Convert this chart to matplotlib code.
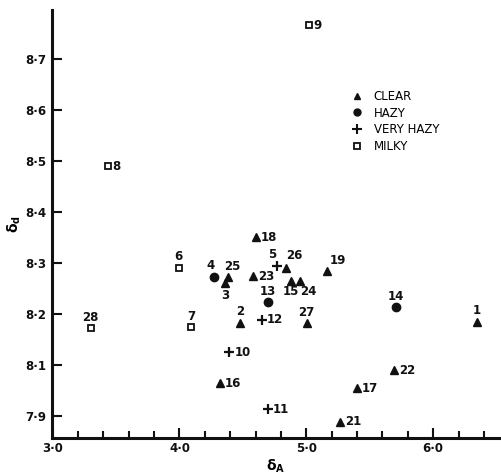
import numpy as np
import matplotlib.pyplot as plt
from matplotlib.lines import Line2D

# sample numbers and positions (delta_A, delta_d)
clear_ids = [1, 2, 3, 15, 16, 17, 18, 19, 21, 22, 23, 24, 25, 26, 27]
clear_x = [6.344, 4.479, 4.359, 4.883, 4.320, 5.396, 4.600, 5.160, 5.265, 5.690, 4.577, 4.950, 4.380, 4.841, 5.003]
clear_y = [8.185, 8.183, 8.260, 8.265, 8.064, 8.054, 8.350, 8.284, 7.989, 8.090, 8.274, 8.265, 8.273, 8.289, 8.183]

hazy_ids = [4, 13, 14]
hazy_x = [4.275, 4.694, 5.710]
hazy_y = [8.273, 8.224, 8.213]

vhazy_ids = [5, 10, 11, 12]
vhazy_x = [4.767, 4.393, 4.694, 4.647]
vhazy_y = [8.294, 8.125, 8.013, 8.189]

milky_ids = [6, 7, 8, 9, 28]
milky_x = [3.995, 4.090, 3.433, 5.020, 3.300]
milky_y = [8.290, 8.174, 8.489, 8.765, 8.172]

xticks = [3.0, 4.0, 5.0, 6.0]
xtick_labels = ['3·0', '4·0', '5·0', '6·0']
yticks = [8.0, 8.1, 8.2, 8.3, 8.4, 8.5, 8.6, 8.7]
ytick_labels = ['7·9', '8·1', '8·2', '8·3', '8·4', '8·5', '8·6', '8·7']

# label placement: offset in pixels and alignment
above = ((0, 11), 'center', 'center')
below = ((0, -12), 'center', 'center')
right = ((5, 0), 'left', 'center')
label_pos = {1: above, 2: above, 3: below, 4: ((-4, 11), 'center', 'center'),
             5: ((-5, 11), 'center', 'center'), 6: above, 7: above, 8: right, 9: right,
             10: right, 11: right, 12: right, 13: ((0, 10), 'center', 'center'), 14: above,
             15: ((-1, -11), 'center', 'center'), 16: right, 17: right, 18: right,
             19: ((3, 10), 'left', 'center'), 21: right, 22: right, 23: right,
             24: ((8, -11), 'center', 'center'), 25: ((5, 10), 'center', 'center'),
             26: ((8, 13), 'center', 'center'), 27: ((0, 10), 'center', 'center'), 28: above}

plt.rcParams['font.family'] = 'DejaVu Sans'
fig = plt.figure(figsize=(5.02, 4.74), dpi=100)
ax = fig.add_axes([52/502, 36/474, 448/502, 428/474])

k = '#111111'
ax.plot(clear_x, clear_y, '^', color=k, ms=5.5, ls='none')
ax.plot(hazy_x, hazy_y, 'o', color=k, ms=6, ls='none')
ax.plot(vhazy_x, vhazy_y, '+', color=k, ms=7, mew=1.6, ls='none')
ax.plot(milky_x, milky_y, 's', mfc='white', mec=k, ms=4.5, mew=1.3, ls='none')

for ids, xs, ys in [(clear_ids, clear_x, clear_y), (hazy_ids, hazy_x, hazy_y),
                    (vhazy_ids, vhazy_x, vhazy_y), (milky_ids, milky_x, milky_y)]:
    for i, x, y in zip(ids, xs, ys):
        off, ha, va = label_pos[i]
        ax.annotate(str(i), (x, y), xytext=off, textcoords='offset pixels',
                    ha=ha, va=va, fontsize=8.5, fontweight='bold', color=k)

ax.set_xlim(2.995, 6.527)
ax.set_ylim(7.957, 8.795)
ax.set_xticks(xticks)
ax.set_xticklabels(xtick_labels, fontsize=8.5, fontweight='bold')
ax.set_xticks(np.arange(3.2, 6.5, 0.2), minor=True)
ax.set_yticks(yticks)
ax.set_yticklabels(ytick_labels, fontsize=8.5, fontweight='bold')
ax.tick_params(axis='both', direction='in', width=1.5, length=7, color=k, labelcolor=k)
ax.tick_params(axis='x', which='minor', direction='in', width=1.5, length=5, color=k)
ax.tick_params(axis='x', pad=3)
ax.tick_params(axis='y', pad=4)
for s in ['top', 'right']:
    ax.spines[s].set_visible(False)
for s in ['left', 'bottom']:
    ax.spines[s].set_linewidth(2.2)
    ax.spines[s].set_color(k)

ax.set_xlabel(r'$\mathbf{\delta_A}$', fontsize=10, labelpad=2)
ax.set_ylabel(r'$\mathbf{\delta_d}$', fontsize=10, labelpad=2)

handles = [Line2D([], [], marker='^', color=k, ms=5, ls='none'),
           Line2D([], [], marker='o', color=k, ms=5, ls='none'),
           Line2D([], [], marker='+', color=k, ms=6.5, mew=1.5, ls='none'),
           Line2D([], [], marker='s', mfc='white', mec=k, ms=4.5, mew=1.3, ls='none')]
ax.legend(handles, ['CLEAR', 'HAZY', 'VERY HAZY', 'MILKY'], loc='upper left',
          bbox_to_anchor=(0.668, 0.813), frameon=False, borderpad=0, borderaxespad=0,
          handlelength=1.0, handletextpad=0.9, labelspacing=0.3,
          prop={'size': 8.5})

fig.savefig('out.png', dpi=100)
